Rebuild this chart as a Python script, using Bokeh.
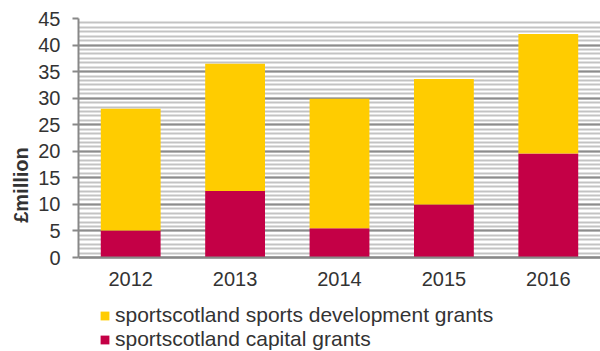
from bokeh.plotting import figure
from bokeh.models import (ColumnDataSource, Range1d, FactorRange, SingleIntervalTicker,
                          Legend, LegendItem, Title)
from bokeh.embed import file_html
from bokeh.resources import INLINE

years = ["2012", "2013", "2014", "2015", "2016"]
capital = [5.1, 12.5, 5.5, 10.0, 19.6]
development = [22.9, 24.0, 24.4, 23.6, 22.5]
series_names = ["sportscotland sports development grants", "sportscotland capital grants"]
y_label = "£million"
y_max = 45

YELLOW = "#FFCC00"
CRIMSON = "#C40046"
FONT = "Liberation Sans"
TXT = "#333333"
FS = "20px"

# layout (pixels): plot area from y=18 (45) to y=257 (0); the frame extends to the bottom
TOP, ZERO, H = 18, 257, 351
px_per_unit = (ZERO - TOP) / y_max
y_bottom = -(H - ZERO) / px_per_unit

source = ColumnDataSource(dict(years=years, capital=capital, development=development))

p = figure(width=600, height=H, x_range=FactorRange(*years), y_range=Range1d(y_bottom, y_max),
           output_backend="svg", toolbar_location=None,
           min_border_left=78, min_border_right=0, min_border_top=TOP, min_border_bottom=0)
p.outline_line_color = None

rs = p.vbar_stack(["capital", "development"], x="years", width=0.573, source=source,
                  color=[CRIMSON, YELLOW], line_color=None)

# y axis
p.yaxis.bounds = (0, y_max)
p.yaxis.ticker = SingleIntervalTicker(interval=5, num_minor_ticks=6)
p.yaxis.axis_line_color = "#888888"
p.yaxis.axis_line_width = 2
p.yaxis.major_tick_line_color = "#888888"
p.yaxis.major_tick_line_width = 2
p.yaxis.major_tick_out = 6
p.yaxis.major_tick_in = 0
p.yaxis.minor_tick_out = 0
p.yaxis.minor_tick_in = 0
p.yaxis.major_label_standoff = 12
p.yaxis.major_label_text_font = FONT
p.yaxis.major_label_text_font_size = FS
p.yaxis.major_label_text_color = TXT

# y axis title, placed beside the 0-45 part of the frame
ytitle = Title(text=y_label, align="center", offset=-47, standoff=8,
               text_font=FONT, text_font_size=FS, text_font_style="bold", text_color=TXT)
p.add_layout(ytitle, "left")

# x axis, pinned at y = 0
p.xaxis.fixed_location = 0
p.xaxis.axis_line_color = "#888888"
p.xaxis.axis_line_width = 2
p.xaxis.major_tick_out = 0
p.xaxis.major_tick_in = 0
p.xaxis.major_label_standoff = 14
p.xaxis.major_label_text_font = FONT
p.xaxis.major_label_text_font_size = FS
p.xaxis.major_label_text_color = TXT

# grid
p.xgrid.grid_line_color = None
p.ygrid.bounds = (0, y_max)
p.ygrid.grid_line_color = "#8c8c8c"
p.ygrid.grid_line_width = 2
p.ygrid.minor_grid_line_color = "#c3c3c3"
p.ygrid.minor_grid_line_width = 2

legend = Legend(items=[LegendItem(label=series_names[0], renderers=[rs[1]]),
                       LegendItem(label=series_names[1], renderers=[rs[0]])],
                location=(21, 0), orientation="vertical",
                glyph_width=11, glyph_height=11, label_height=20, spacing=-4,
                padding=0, margin=0, label_standoff=5,
                label_text_font=FONT, label_text_font_size="21px", label_text_color=TXT,
                border_line_color=None, background_fill_alpha=0)
p.add_layout(legend, "center")

open("out.html", "w").write(file_html(p, INLINE))
